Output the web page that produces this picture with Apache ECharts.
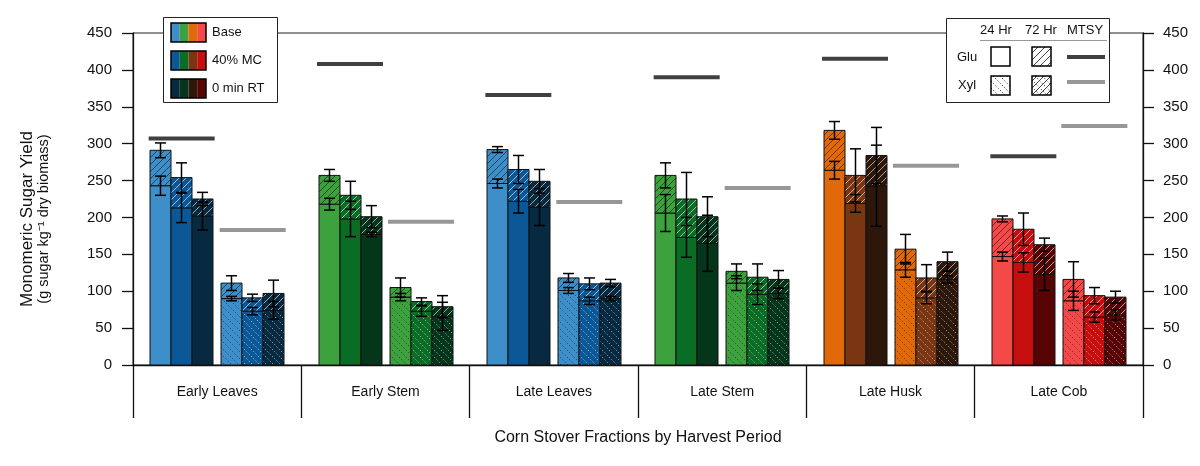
<!DOCTYPE html>
<html>
<head>
<meta charset="utf-8">
<script src="https://cdn.jsdelivr.net/npm/echarts@6/dist/echarts.min.js"></script>
<style>html,body{margin:0;padding:0;background:#fff;}#c{width:1200px;height:466px;}</style>
</head>
<body>
<div id="c"></div>
<script>
// ---------- data ----------
const categories = ['Early Leaves', 'Early Stem', 'Late Leaves', 'Late Stem', 'Late Husk', 'Late Cob'];
const treatments = ['Base', '40% MC', '0 min RT'];
// per category: [Base, 40% MC, 0 min RT]
const glu24    = [[243, 213, 202], [218, 198, 177], [246, 222, 214], [206, 173, 165], [264, 219, 243], [147, 139, 123]];
const glu24Err = [[13, 20, 19], [8, 24, 3], [6, 16, 25], [25, 27, 38], [12, 12, 55], [6, 13, 22]];
const glu72    = [[291, 254, 225], [257, 230, 201], [292, 265, 249], [257, 225, 201], [318, 257, 284], [198, 184, 163]];
const glu72Err = [[10, 20, 9], [8, 19, 15], [4, 19, 16], [17, 36, 27], [12, 36, 38], [4, 22, 9]];
const xyl24    = [[90, 73, 74], [92, 73, 66], [101, 87, 90], [111, 96, 97], [129, 91, 116], [87, 65, 68]];
const xyl24Err = [[3, 5, 12], [5, 7, 19], [4, 5, 3], [10, 14, 7], [10, 8, 5], [13, 7, 7]];
const xyl72    = [[111, 91, 97], [105, 86, 79], [118, 110, 111], [127, 119, 116], [157, 118, 140], [116, 94, 92]];
const xyl72Err = [[10, 5, 18], [13, 5, 15], [6, 8, 5], [10, 18, 12], [20, 18, 13], [24, 11, 8]];
const mtsyGlu  = [307, 408, 366, 390, 415, 283];
const mtsyXyl  = [183, 194, 221, 240, 270, 324];

// ---------- styles ----------
const FONT = 'Liberation Sans, Arial, Helvetica, sans-serif';
const palettes = {
  blue:   ['#3D8EC9', '#0C5896', '#072A40'],
  green:  ['#3DA13D', '#0B6D25', '#05351A'],
  orange: ['#E2690A', '#7A3612', '#2D170A'],
  red:    ['#F44949', '#C60E0E', '#570404']
};
const groupPalette = ['blue', 'green', 'blue', 'green', 'orange', 'red'];
const BAR_W = 21, CLUSTER_GAP = 8, HATCH = 7;

function hatch(x0, y0, x1, y1, dir, s) {
  const segs = [];
  if (dir > 0) { // "/" : x + y = c
    for (let c = Math.ceil((x0 + y0) / s) * s; c <= x1 + y1; c += s) {
      const xa = Math.max(x0, c - y1), xb = Math.min(x1, c - y0);
      if (xb - xa > 0.6) segs.push([xa, c - xa, xb, c - xb]);
    }
  } else { // "\" : x - y = c
    for (let c = Math.ceil((x0 - y1) / s) * s; c <= x1 - y0; c += s) {
      const xa = Math.max(x0, c + y0), xb = Math.min(x1, c + y1);
      if (xb - xa > 0.6) segs.push([xa, xa - c, xb, xb - c]);
    }
  }
  return segs;
}
function hatchEls(x0, y0, x1, y1, dir, color, dash) {
  return hatch(x0, y0, x1, y1, dir, HATCH).map(s => ({
    type: 'line', silent: true,
    shape: { x1: s[0], y1: s[1], x2: s[2], y2: s[3] },
    style: { stroke: color, lineWidth: 1, lineDash: dash || null }
  }));
}

// ---------- build series data ----------
const barData = [];
const mtsyData = [];
for (let g = 0; g < categories.length; g++) {
  for (let t = 0; t < treatments.length; t++) {
    barData.push([g, 0, t, glu24[g][t], glu24Err[g][t], glu72[g][t], glu72Err[g][t]]);
    barData.push([g, 1, t, xyl24[g][t], xyl24Err[g][t], xyl72[g][t], xyl72Err[g][t]]);
  }
  mtsyData.push([g, 0, mtsyGlu[g]]);
  mtsyData.push([g, 1, mtsyXyl[g]]);
}

function clusterLeft(api, g, cl) {
  const left = api.coord([g, 0])[0];
  const W = api.size([1, 0])[0];
  const margin = (W - 6 * BAR_W - CLUSTER_GAP) / 2;
  return left + margin + cl * (3 * BAR_W + CLUSTER_GAP);
}

function renderBar(params, api) {
  const g = api.value(0), cl = api.value(1), t = api.value(2);
  const v24 = api.value(3), e24 = api.value(4), v72 = api.value(5), e72 = api.value(6);
  const x0 = Math.round(clusterLeft(api, g, cl) + t * BAR_W);
  const x1 = x0 + BAR_W;
  const yb = api.coord([g, 0])[1];
  const y24 = api.coord([g, v24])[1];
  const y72 = api.coord([g, v72])[1];
  const color = palettes[groupPalette[g]][t];
  const hcol = t === 0 ? 'rgba(0,0,0,0.5)' : 'rgba(255,255,255,0.6)';
  const children = [];
  children.push({ type: 'rect', shape: { x: x0, y: y24, width: BAR_W, height: yb - y24 },
    style: { fill: color, stroke: null } });
  if (cl === 1) children.push(...hatchEls(x0, y24, x1, yb, -1, hcol, [1.2, 2]));
  children.push({ type: 'rect', shape: { x: x0, y: y24, width: BAR_W, height: yb - y24 },
    style: { fill: null, stroke: '#111', lineWidth: 1 } });
  children.push({ type: 'rect', shape: { x: x0, y: y72, width: BAR_W, height: y24 - y72 },
    style: { fill: color, stroke: null } });
  children.push(...hatchEls(x0, y72, x1, y24, 1, hcol));
  children.push({ type: 'rect', shape: { x: x0, y: y72, width: BAR_W, height: y24 - y72 },
    style: { fill: null, stroke: '#111', lineWidth: 1 } });
  const cx = x0 + BAR_W / 2;
  [[v24, e24], [v72, e72]].forEach(([v, e]) => {
    const yt = api.coord([g, v + e])[1], ybt = api.coord([g, v - e])[1];
    const es = { stroke: '#000', lineWidth: 1.5 };
    children.push({ type: 'line', shape: { x1: cx, y1: yt, x2: cx, y2: ybt }, style: es });
    children.push({ type: 'line', shape: { x1: cx - 5.5, y1: yt, x2: cx + 5.5, y2: yt }, style: es });
    children.push({ type: 'line', shape: { x1: cx - 5.5, y1: ybt, x2: cx + 5.5, y2: ybt }, style: es });
  });
  return { type: 'group', children };
}

function renderMtsy(params, api) {
  const g = api.value(0), cl = api.value(1), v = api.value(2);
  const xl = clusterLeft(api, g, cl) - 1.5;
  const xr = xl + 3 * BAR_W + 3;
  const y = api.coord([g, v])[1];
  return { type: 'line', shape: { x1: xl, y1: y, x2: xr, y2: y },
    style: { stroke: cl === 0 ? '#404040' : '#979797', lineWidth: 4 } };
}

// ---------- legends (graphic) ----------
const legendEls = [];
legendEls.push({ type: 'rect', shape: { x: 163.5, y: 17.5, width: 114, height: 85 },
  style: { fill: '#fff', stroke: '#222', lineWidth: 1 }, z: 10 });
const swRows = [23, 51, 79];
['blue', 'green', 'orange', 'red'].forEach((p, k) => {
  swRows.forEach((y, r) => {
    legendEls.push({ type: 'rect', shape: { x: 171 + k * 8.75, y: y, width: 8.75, height: 19 },
      style: { fill: palettes[p][r] }, z: 11 });
  });
});
swRows.forEach((y, r) => {
  legendEls.push({ type: 'rect', shape: { x: 171, y: y, width: 35, height: 19 },
    style: { fill: null, stroke: '#000', lineWidth: 1.5 }, z: 12 });
  legendEls.push({ type: 'text', x: 212, y: y + 9.5, z: 12,
    style: { text: treatments[r], font: '13px ' + FONT, fill: '#111', verticalAlign: 'middle' } });
});

legendEls.push({ type: 'rect', shape: { x: 946.5, y: 18.5, width: 163, height: 84 },
  style: { fill: '#fff', stroke: '#222', lineWidth: 1 }, z: 10 });
[['24 Hr', 996], ['72 Hr', 1041], ['MTSY', 1085]].forEach(([s, x]) => {
  legendEls.push({ type: 'text', x: x, y: 30, z: 12,
    style: { text: s, font: '13px ' + FONT, fill: '#111', align: 'center', verticalAlign: 'middle' } });
});
legendEls.push({ type: 'line', shape: { x1: 980, y1: 40.5, x2: 1107, y2: 40.5 },
  style: { stroke: '#999', lineWidth: 1 }, z: 12 });
[['Glu', 57], ['Xyl', 85]].forEach(([s, y]) => {
  legendEls.push({ type: 'text', x: 967, y: y, z: 12,
    style: { text: s, font: '13px ' + FONT, fill: '#111', align: 'center', verticalAlign: 'middle' } });
});
const sq = [[991, 47, false, false], [1032, 47, true, false], [991, 76, false, true], [1032, 76, true, true]];
sq.forEach(([x, y, slash, dots]) => {
  const hs = [];
  if (dots) hs.push(...hatchEls(x, y, x + 19, y + 19, -1, '#333', [1.2, 2]));
  if (slash) hs.push(...hatchEls(x, y, x + 19, y + 19, 1, '#444'));
  hs.forEach(h => { h.z = 12; legendEls.push(h); });
  legendEls.push({ type: 'rect', shape: { x: x, y: y, width: 19, height: 19 },
    style: { fill: null, stroke: '#000', lineWidth: 1.5 }, z: 13 });
});
legendEls.push({ type: 'line', shape: { x1: 1067, y1: 57, x2: 1105, y2: 57 },
  style: { stroke: '#404040', lineWidth: 4 }, z: 12 });
legendEls.push({ type: 'line', shape: { x1: 1067, y1: 82, x2: 1105, y2: 82 },
  style: { stroke: '#979797', lineWidth: 4 }, z: 12 });

// y-axis title (two lines)
legendEls.push({ type: 'text', x: 27, y: 219, rotation: Math.PI / 2,
  style: { text: 'Monomeric Sugar Yield', font: '17px ' + FONT, fill: '#111', align: 'center', verticalAlign: 'middle' } });
legendEls.push({ type: 'text', x: 44, y: 219, rotation: Math.PI / 2,
  style: { text: '(g sugar kg⁻¹ dry biomass)', font: '14.5px ' + FONT, fill: '#111', align: 'center', verticalAlign: 'middle' } });

// ---------- chart ----------
const chart = echarts.init(document.getElementById('c'), null, { renderer: 'canvas' });
const yAxisCommon = {
  type: 'value', min: 0, max: 450, interval: 50,
  axisLine: { show: true, lineStyle: { color: '#111', width: 1.3 } },
  axisTick: { show: true, length: 11, lineStyle: { color: '#111', width: 1.3 } },
  axisLabel: { fontSize: 15, fontFamily: FONT, color: '#111', margin: 21 },
  splitLine: { show: false }
};
chart.setOption({
  animation: false,
  grid: { left: 133, right: 57, top: 33, bottom: 101, show: true, borderColor: '#222', borderWidth: 1 },
  xAxis: [
    {
      type: 'category', data: categories, position: 'bottom',
      axisLine: { show: true, lineStyle: { color: '#111', width: 1.3 } },
      axisTick: { show: true, length: 53, interval: 0, lineStyle: { color: '#111', width: 1.3 } },
      axisLabel: { fontSize: 14, fontFamily: FONT, color: '#111', margin: 20, interval: 0 },
      name: 'Corn Stover Fractions by Harvest Period', nameLocation: 'middle', nameGap: 65,
      nameTextStyle: { fontSize: 16, fontFamily: FONT, color: '#111' }
    },
    { type: 'value', min: 0, max: categories.length, show: false }
  ],
  yAxis: [
    Object.assign({}, yAxisCommon, { position: 'left' }),
    Object.assign({}, yAxisCommon, { position: 'right', axisLabel: Object.assign({}, yAxisCommon.axisLabel, { margin: 20 }) })
  ],
  graphic: { elements: legendEls },
  series: [
    { type: 'custom', xAxisIndex: 1, yAxisIndex: 0, renderItem: renderBar, data: barData,
      encode: { x: 0, y: 5 }, clip: false, z: 2 },
    { type: 'custom', xAxisIndex: 1, yAxisIndex: 0, renderItem: renderMtsy, data: mtsyData,
      encode: { x: 0, y: 2 }, clip: false, z: 3 }
  ]
});
</script>
</body>
</html>
